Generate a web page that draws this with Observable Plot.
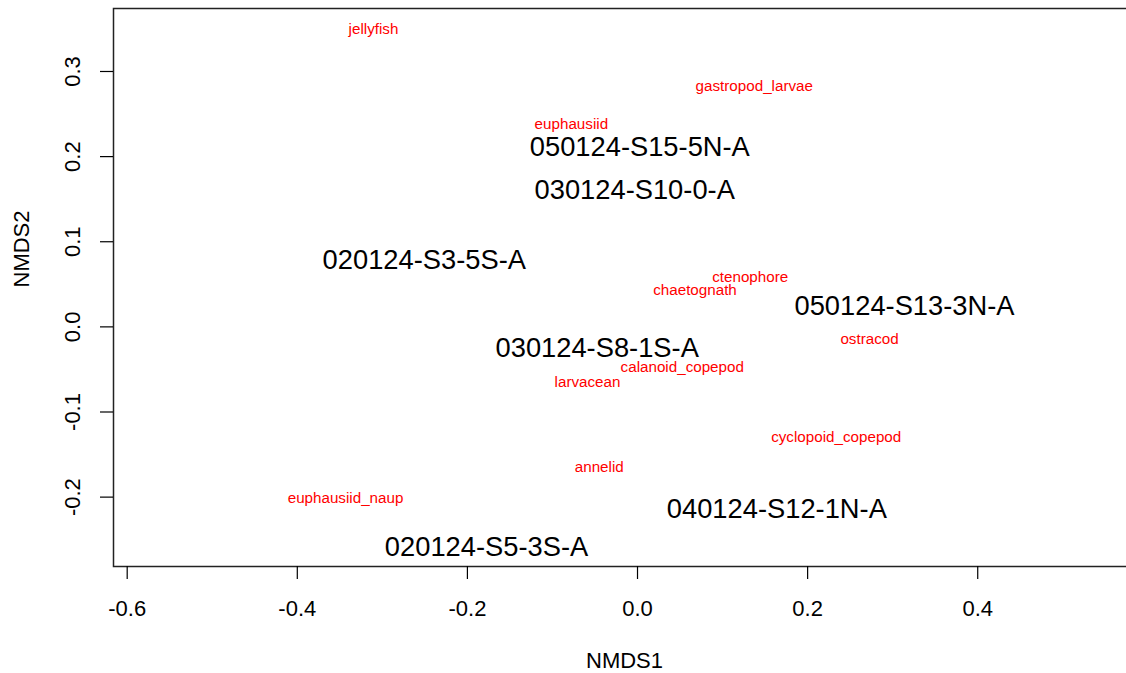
<!DOCTYPE html>
<html>
<head>
<meta charset="utf-8">
<script src="https://cdn.jsdelivr.net/npm/d3@7"></script>
<script src="https://cdn.jsdelivr.net/npm/@observablehq/plot@0.6"></script>
<style>
  html, body { margin: 0; padding: 0; background: #fff; overflow: hidden; }
  #chart { width: 1140px; }
  #chart svg { display: block; max-width: none !important; height: 673px !important; }
</style>
</head>
<body>
<div id="chart"></div>
<script>
// Species scores (red labels)
const speciesNames = ["jellyfish","gastropod_larvae","euphausiid","ctenophore","chaetognath","ostracod","calanoid_copepod","larvacean","cyclopoid_copepod","annelid","euphausiid_naup"];
const speciesX = [-0.3104, 0.1373, -0.0778, 0.1325, 0.0676, 0.2728, 0.0526, -0.0588, 0.2336, -0.0450, -0.3433];
const speciesY = [0.3493, 0.2830, 0.2380, 0.0583, 0.0428, -0.0142, -0.0471, -0.0653, -0.1293, -0.1646, -0.2016];

// Site scores (black labels)
const siteNames = ["050124-S15-5N-A","030124-S10-0-A","020124-S3-5S-A","050124-S13-3N-A","030124-S8-1S-A","040124-S12-1N-A","020124-S5-3S-A"];
const siteX = [0.0027, -0.0033, -0.2507, 0.3139, -0.0474, 0.1638, -0.1775];
const siteY = [0.2107, 0.1605, 0.0782, 0.0240, -0.0246, -0.2145, -0.2591];

// Axes
const xTicks = [-0.6, -0.4, -0.2, 0.0, 0.2, 0.4];
const yTicks = [-0.2, -0.1, 0.0, 0.1, 0.2, 0.3];
const xDomain = [-0.6161, 0.5855];
const yDomain = [-0.2815, 0.3740];
const xTitle = "NMDS1";
const yTitle = "NMDS2";

const species = speciesNames.map((n, i) => ({name: n, x: speciesX[i], y: speciesY[i]}));
const sites = siteNames.map((n, i) => ({name: n, x: siteX[i], y: siteY[i]}));
const fmt = v => v.toFixed(1);

const chart = Plot.plot({
  width: 1140,
  height: 673,
  marginLeft: 113,
  marginRight: 5,
  marginTop: 8,
  marginBottom: 107,
  style: {fontFamily: "'Liberation Sans', Arial, sans-serif", color: "#000", background: "#fff", maxWidth: "none"},
  x: {domain: xDomain, axis: null},
  y: {domain: yDomain, axis: null},
  marks: [
    Plot.frame({stroke: "#222", strokeWidth: 1.5}),
    Plot.axisX({ticks: xTicks, tickSize: 13, tickFormat: () => "", label: null, strokeWidth: 1.2}),
    Plot.axisY({ticks: yTicks, tickSize: 13, tickFormat: () => "", label: null, strokeWidth: 1.2}),
    Plot.text(xTicks, {x: d => d, text: fmt, frameAnchor: "bottom", dy: 42, lineAnchor: "middle", fontSize: 22, fill: "#000"}),
    Plot.text(yTicks, {y: d => d, text: fmt, frameAnchor: "left", dx: -41, rotate: -90, textAnchor: "middle", lineAnchor: "middle", fontSize: 22, fill: "#000"}),
    Plot.text([xTitle], {text: d => d, frameAnchor: "bottom", dy: 94, lineAnchor: "middle", fontSize: 22, fill: "#000"}),
    Plot.text([yTitle], {text: d => d, frameAnchor: "left", dx: -92, rotate: -90, lineAnchor: "middle", fontSize: 22, fill: "#000"}),
    Plot.text(species, {x: "x", y: "y", text: "name", fill: "#ff0000", fontSize: 15.2, textAnchor: "middle", lineAnchor: "middle"}),
    Plot.text(sites, {x: "x", y: "y", text: "name", fill: "#000", fontSize: 27.3, textAnchor: "middle", lineAnchor: "middle"})
  ]
});
document.getElementById("chart").appendChild(chart);
</script>
</body>
</html>
